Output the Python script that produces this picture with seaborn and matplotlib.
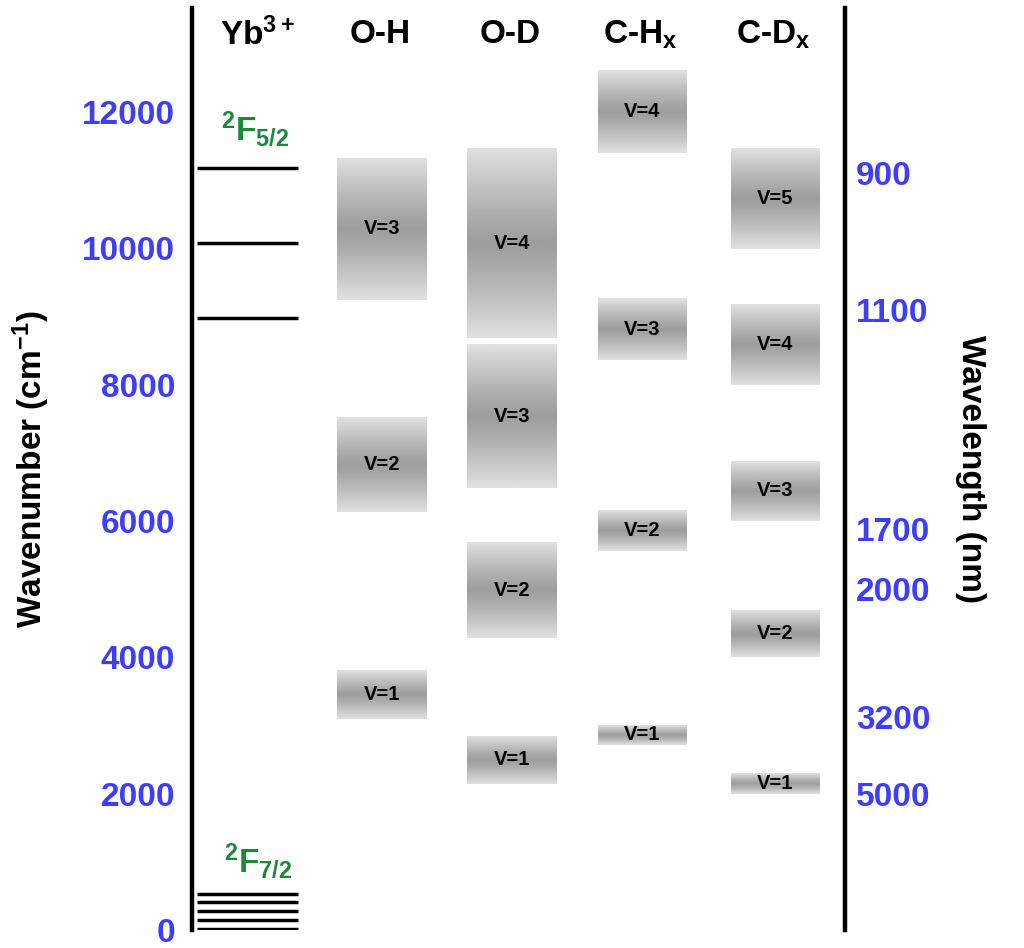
import numpy as np
import seaborn as sns
import matplotlib.pyplot as plt

sns.set_style("white")
plt.rcParams['font.family'] = ['Liberation Sans', 'DejaVu Sans']
plt.rcParams['font.weight'] = 'bold'
plt.rcParams['mathtext.fontset'] = 'custom'
plt.rcParams['mathtext.bf'] = 'Liberation Sans:bold'
plt.rcParams['mathtext.rm'] = 'Liberation Sans:bold'
plt.rcParams['mathtext.default'] = 'bf'
plt.rcParams['text.color'] = 'black'

# columns (x ranges in axis units) and vibrational bands (low, high wavenumber)
columns = ["O-H", "O-D", "C-H$_\\mathregular{x}$", "C-D$_\\mathregular{x}$"]
col_x = [(145, 235), (275, 365), (406, 495), (539, 628)]
bands = [
    [(3095, 3800), (6132, 7525), (9242, 11325)],
    [(2142, 2846), (4283, 5677), (6484, 8582), (8684, 11471)],
    [(2714, 3007), (5560, 6161), (8361, 9256), (11398, 12601)],
    [(1995, 2303), (4005, 4694), (6000, 6880), (7995, 9183), (9990, 11471)],
]
yb_upper = [8978, 10078, 11178]
yb_lower = [0, 132, 264, 396, 513]
left_ticks = [0, 2000, 4000, 6000, 8000, 10000, 12000]
wl_ticks = [900, 1100, 1700, 2000, 3200, 5000]

blue = "#3d3dff"
green = "#1a8a3a"

fig = plt.figure(figsize=(10.24, 9.48), dpi=100)
ax = fig.add_axes([192 / 1024, 18 / 948, 653 / 1024, 922 / 948])
ax.set_xlim(0, 653)
ax.set_ylim(0, 13525)

for s in ["top", "bottom"]:
    ax.spines[s].set_visible(False)
for s in ["left", "right"]:
    ax.spines[s].set_linewidth(3.2)
    ax.spines[s].set_color("black")

# gradient: darker gray in the middle, light gray at edges
g = np.linspace(-1, 1, 100)
grad = (0.62 + 0.26 * np.abs(g) ** 1.2)[:, None]
for (x0, x1), col in zip(col_x, bands):
    for i, (lo, hi) in enumerate(col):
        ax.imshow(grad, extent=(x0, x1, lo, hi), cmap="gray", vmin=0, vmax=1,
                  aspect="auto", interpolation="bilinear", zorder=1)
        ax.text((x0 + x1) / 2, (lo + hi) / 2, f"V={i + 1}", ha="center", va="center",
                fontsize=14.5, fontweight="bold", color="black", zorder=3)

for y in yb_upper:
    ax.plot([5, 106], [y, y], color="black", lw=2.5, solid_capstyle="butt")
for y in yb_lower:
    ax.plot([5, 106], [y + 20, y + 20], color="black", lw=2.5, solid_capstyle="butt")

ax.set_xticks([])
ax.set_yticks(left_ticks)
ax.set_yticklabels([str(t) for t in left_ticks], color=blue, fontsize=24, fontweight="bold")
ax.tick_params(axis="y", length=0, pad=12)
ax.set_ylabel("Wavenumber (cm$^\\mathregular{-1}$)", fontsize=24, fontweight="bold",
              labelpad=22, color="black")

ax2 = ax.twinx()
ax2.set_ylim(ax.get_ylim())
for s in ax2.spines.values():
    s.set_visible(False)
ax2.set_yticks([1e7 / w for w in wl_ticks])
ax2.set_yticklabels([str(w) for w in wl_ticks], color=blue, fontsize=24, fontweight="bold")
ax2.tick_params(axis="y", length=0, pad=8)
ax2.set_ylabel("Wavelength (nm)", fontsize=24, fontweight="bold", rotation=270,
               labelpad=40, color="black")

# headers
head_y = 13130
ax.text(66, head_y, "Yb$^\\mathregular{3+}$", ha="center", va="center", fontsize=24, fontweight="bold")
for name, (x0, x1) in zip(columns, col_x):
    ax.text((x0 + x1) / 2 - 2, head_y, name, ha="center", va="center", fontsize=24, fontweight="bold")

ax.text(63, 11750, "$^\\mathregular{2}$F$_\\mathregular{5/2}$", ha="center", va="center",
        fontsize=24, fontweight="bold", color=green)
ax.text(66, 1000, "$^\\mathregular{2}$F$_\\mathregular{7/2}$", ha="center", va="center",
        fontsize=24, fontweight="bold", color=green)

fig.savefig("out.png", dpi=100)
